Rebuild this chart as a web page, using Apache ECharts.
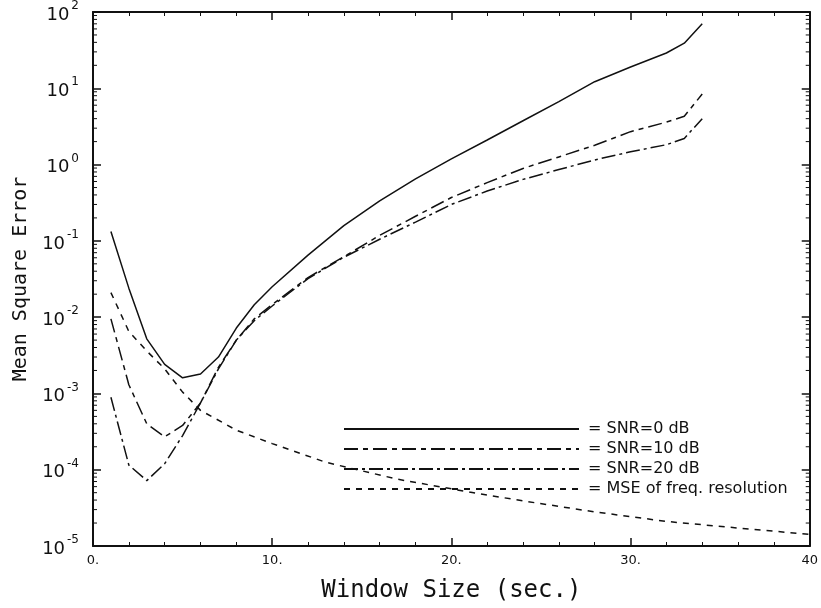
<!DOCTYPE html>
<html>
<head>
<meta charset="utf-8">
<script src="https://cdn.jsdelivr.net/npm/echarts@6/dist/echarts.min.js"></script>
<style>
  html, body { margin: 0; padding: 0; background: #fff; }
  #chart { width: 821px; height: 608px; }
</style>
</head>
<body>
<div id="chart"></div>
<script>
// Window sizes (sec.) at which the SNR curves were evaluated
const windowSizes = [1, 2, 3, 4, 5, 6, 7, 8, 9, 10, 12, 14, 16, 18, 20, 22, 24, 26, 28, 30, 32, 33, 34];

// Mean square error for each noise level
const mseSnr0 = [0.133, 0.024, 0.0052, 0.0024, 0.0016, 0.0018, 0.0030, 0.0072, 0.0145, 0.025,
  0.065, 0.158, 0.335, 0.65, 1.19, 2.1, 3.75, 6.7, 12.2, 19, 29, 39, 70];
const mseSnr10 = [0.0095, 0.0013, 0.0004, 0.00027, 0.00038, 0.00075, 0.0022, 0.0050, 0.0095, 0.0146,
  0.033, 0.062, 0.118, 0.21, 0.37, 0.58, 0.89, 1.26, 1.79, 2.7, 3.6, 4.3, 8.4];
const mseSnr20 = [0.00089, 0.000115, 0.000072, 0.00012, 0.00028, 0.00075, 0.0021, 0.0050, 0.0090, 0.0140,
  0.032, 0.061, 0.105, 0.176, 0.30, 0.45, 0.64, 0.86, 1.15, 1.47, 1.82, 2.2, 4.0];

// MSE caused by the frequency resolution of the window
const resolutionSizes = [1, 2, 3, 4, 5, 6, 8, 10, 13, 17, 21, 24, 28, 32, 36, 40];
const mseResolution = [0.021, 0.0065, 0.0036, 0.0021, 0.00104, 0.00060, 0.00033, 0.00022, 0.000125,
  0.000075, 0.000051, 0.000039, 0.000028, 0.000021, 0.0000172, 0.0000142];

// Legend labels
const seriesNames = ['SNR=0 dB', 'SNR=10 dB', 'SNR=20 dB', 'MSE of freq. resolution'];

// Log-axis minor tick values (2..9 within each decade)
const minorTickValues = [];
for (let e = -5; e < 2; e++) {
  for (let m = 2; m <= 9; m++) minorTickValues.push([m * Math.pow(10, e)]);
}

function pairs(xs, ys) { return xs.map((x, i) => [x, ys[i]]); }

const INK = '#111';
const chart = echarts.init(document.getElementById('chart'));

const baseX = {
  type: 'value', min: 0, max: 40, interval: 10,
  axisLine: { show: true, onZero: false, lineStyle: { color: INK, width: 2 } },
  axisTick: { show: true, inside: true, length: 8, lineStyle: { color: INK, width: 1.5 } },
  minorTick: { show: true, splitNumber: 5, length: 4, lineStyle: { color: INK, width: 1 } },
  splitLine: { show: false }
};
const baseY = {
  type: 'log', logBase: 10, min: 1e-5, max: 100, interval: 1,
  axisLine: { show: true, onZero: false, lineStyle: { color: INK, width: 2 } },
  axisTick: { show: true, inside: true, length: 8, lineStyle: { color: INK, width: 1.5 } },
  splitLine: { show: false }
};

const lineCommon = (name, data, type) => ({
  name: name,
  type: 'line',
  data: data,
  showSymbol: false,
  symbol: 'none',
  smooth: false,
  lineStyle: { color: INK, width: 1.5, type: type },
  itemStyle: { color: INK },
  silent: true,
  z: 3
});

chart.setOption({
  animation: false,
  backgroundColor: '#fff',
  grid: { left: 93, right: 11, top: 10, bottom: 55 },
  xAxis: [
    Object.assign({}, baseX, {
      position: 'bottom',
      name: 'Window Size (sec.)',
      nameLocation: 'middle',
      nameGap: 33,
      nameTextStyle: { fontFamily: 'DejaVu Sans Mono', fontSize: 24, color: INK },
      axisLabel: {
        margin: 8, fontSize: 13, fontFamily: 'DejaVu Sans', color: INK,
        formatter: v => (v === 40 ? '40' : v + '.')
      }
    }),
    Object.assign({}, baseX, { position: 'top', axisLabel: { show: false } })
  ],
  yAxis: [
    Object.assign({}, baseY, {
      position: 'left',
      name: 'Mean Square Error',
      nameLocation: 'middle',
      nameGap: 62,
      nameRotate: 90,
      nameTextStyle: { fontFamily: 'DejaVu Sans Mono', fontSize: 20, color: INK },
      axisLabel: {
        margin: 14,
        formatter: v => '{b|10}{e|' + Math.round(Math.log10(v)) + '}',
        rich: {
          b: { fontFamily: 'DejaVu Sans', fontSize: 18, color: INK, lineHeight: 24, verticalAlign: 'bottom' },
          e: { fontFamily: 'DejaVu Sans', fontSize: 12, color: INK, lineHeight: 24, verticalAlign: 'top', padding: [0, 0, 0, 2] }
        }
      }
    }),
    Object.assign({}, baseY, { position: 'right', axisLabel: { show: false } })
  ],
  legend: {
    orient: 'vertical',
    left: 338,
    top: 416,
    itemWidth: 235,
    itemHeight: 12,
    itemGap: 4,
    data: seriesNames,
    formatter: n => '= ' + n,
    itemStyle: { opacity: 0 },
    textStyle: { fontFamily: 'DejaVu Sans', fontSize: 16, color: INK, padding: [0, 0, 0, 4] },
    selectedMode: false
  },
  series: [
    lineCommon(seriesNames[0], pairs(windowSizes, mseSnr0), 'solid'),
    lineCommon(seriesNames[1], pairs(windowSizes, mseSnr10), [14, 5, 5, 5]),
    lineCommon(seriesNames[2], pairs(windowSizes, mseSnr20), [14, 4, 3, 4]),
    lineCommon(seriesNames[3], pairs(resolutionSizes, mseResolution), [6, 6]),
    {
      // minor ticks on both vertical frame edges
      type: 'custom',
      silent: true,
      clip: false,
      data: minorTickValues,
      encode: { y: 0 },
      renderItem: function (params, api) {
        const v = api.value(0);
        const l = api.coord([0, v]);
        const r = api.coord([40, v]);
        return {
          type: 'group',
          children: [
            { type: 'line', shape: { x1: l[0], y1: l[1], x2: l[0] + 4, y2: l[1] }, style: { stroke: INK, lineWidth: 1 } },
            { type: 'line', shape: { x1: r[0], y1: r[1], x2: r[0] - 4, y2: r[1] }, style: { stroke: INK, lineWidth: 1 } }
          ]
        };
      }
    }
  ]
});
</script>
</body>
</html>
